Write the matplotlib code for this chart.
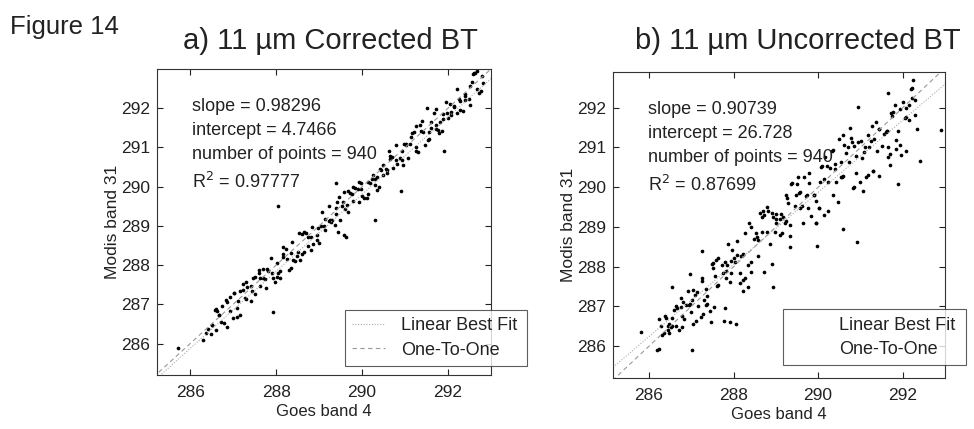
import numpy as np
import matplotlib.pyplot as plt

plt.rcParams['font.family'] = ['Liberation Sans', 'DejaVu Sans']

# a) corrected BT: goes band 4 (x) vs modis band 31 (y)
goes_a = [
    286.38, 286.41, 286.49, 286.50, 286.51, 286.57, 286.60, 286.60, 286.63, 286.67,
    286.68, 286.73, 286.75, 286.78, 286.84, 286.85, 286.86, 286.93, 286.92, 286.99,
    287.01, 287.02, 287.09, 287.11, 287.10, 287.15, 287.16, 287.24, 287.24, 287.27,
    287.30, 287.31, 287.33, 287.41, 287.43, 287.42, 287.46, 287.52, 287.51, 287.60,
    287.62, 287.61, 287.63, 287.69, 287.70, 287.74, 287.76, 287.79, 287.81, 287.89,
    287.92, 287.91, 287.98, 288.01, 288.02, 288.04, 288.10, 288.10, 288.15, 288.17,
    288.17, 288.22, 288.26, 288.30, 288.35, 288.35, 288.38, 288.39, 288.43, 288.49,
    288.50, 288.53, 288.56, 288.61, 288.60, 288.65, 288.66, 288.69, 288.74, 288.74,
    288.82, 288.81, 288.84, 288.86, 288.95, 288.97, 288.96, 288.99, 289.04, 289.07,
    289.11, 289.13, 289.14, 289.22, 289.24, 289.25, 289.31, 289.28, 289.36, 289.40,
    289.40, 289.41, 289.48, 289.46, 289.54, 289.56, 289.58, 289.60, 289.64, 289.68,
    289.68, 289.73, 289.77, 289.79, 289.80, 289.84, 289.90, 289.93, 289.93, 289.97,
    289.98, 290.01, 290.04, 290.12, 290.15, 290.15, 290.19, 290.23, 290.25, 290.30,
    290.29, 290.34, 290.35, 290.41, 290.40, 290.45, 290.48, 290.49, 290.55, 290.59,
    290.59, 290.62, 290.65, 290.66, 290.70, 290.73, 290.78, 290.79, 290.82, 290.89,
    290.92, 290.93, 290.98, 290.96, 291.03, 291.02, 291.06, 291.11, 291.16, 291.15,
    291.20, 291.25, 291.26, 291.26, 291.30, 291.38, 291.36, 291.39, 291.42, 291.47,
    291.53, 291.55, 291.56, 291.60, 291.61, 291.67, 291.71, 291.71, 291.73, 291.78,
    291.77, 291.81, 291.85, 291.89, 291.89, 291.95, 292.00, 291.98, 292.05, 292.07,
    292.08, 292.15, 292.14, 292.20, 292.22, 292.28, 292.26, 292.29, 292.35, 292.40,
    292.39, 292.40, 292.48, 292.51, 292.51, 292.55, 292.58, 292.61, 292.62, 292.67,
    292.67, 292.71, 292.78, 292.77, 292.82,
    285.72, 286.30, 287.93, 288.05, 289.40, 291.50, 290.90, 290.30, 291.90, 289.45,
    289.58, 289.62,
]
modis_a = [
    286.28, 286.38, 286.24, 286.47, 286.48, 286.85, 286.88, 286.35, 286.83, 286.72,
    286.73, 286.56, 286.95, 286.53, 287.12, 286.43, 287.06, 286.83, 287.20, 286.66,
    287.29, 287.30, 286.92, 287.08, 286.68, 287.35, 286.74, 287.36, 287.52, 287.17,
    287.58, 287.14, 287.45, 287.08, 287.33, 287.47, 287.66, 287.27, 287.71, 287.88,
    287.67, 287.81, 287.46, 287.89, 287.67, 287.64, 287.43, 287.91, 287.86, 288.17,
    287.67, 287.81, 287.56, 288.06, 287.69, 287.79, 287.85, 287.68, 288.20, 288.29,
    288.45, 288.42, 288.16, 287.88, 288.32, 287.93, 288.58, 288.14, 288.10, 288.24,
    288.33, 288.81, 288.14, 288.28, 288.80, 288.85, 288.33, 288.81, 288.71, 288.49,
    288.72, 288.39, 288.96, 288.53, 288.78, 288.94, 288.63, 288.57, 289.01, 289.35,
    289.01, 289.18, 288.89, 289.12, 289.52, 289.15, 289.14, 289.11, 289.03, 289.45,
    289.30, 289.61, 289.15, 289.74, 289.51, 289.61, 289.86, 289.43, 289.54, 289.35,
    289.88, 289.85, 289.82, 289.99, 289.63, 289.96, 289.95, 290.13, 289.60, 289.94,
    290.10, 289.76, 289.71, 289.70, 289.82, 290.12, 290.09, 290.20, 290.30, 290.05,
    290.19, 289.92, 290.25, 290.46, 289.98, 290.42, 290.31, 290.54, 290.45, 290.34,
    290.42, 290.90, 290.70, 290.78, 290.75, 290.48, 291.06, 290.69, 290.57, 290.72,
    290.67, 290.90, 291.10, 290.54, 291.08, 291.07, 290.73, 291.08, 291.36, 291.27,
    291.40, 290.92, 291.01, 291.54, 290.88, 291.43, 291.56, 291.67, 291.39, 291.05,
    291.20, 291.22, 291.39, 291.50, 291.66, 291.87, 291.46, 291.99, 291.56, 291.36,
    291.44, 291.64, 291.43, 291.72, 291.86, 292.15, 291.75, 291.88, 292.10, 291.82,
    291.91, 292.05, 292.04, 292.48, 291.89, 292.18, 292.23, 291.96, 291.93, 292.30,
    292.22, 292.37, 292.23, 292.09, 292.56, 292.67, 292.86, 292.89, 292.90, 292.50,
    292.95, 292.38, 292.83, 292.44, 292.65,
    285.90, 286.08, 286.80, 289.50, 290.10, 292.00, 289.90, 289.15, 290.90, 288.85,
    288.78, 288.72,
]

# b) uncorrected BT
goes_b = [
    286.20, 286.23, 286.23, 286.28, 286.30, 286.37, 286.40, 286.36, 286.44, 286.44,
    286.47, 286.48, 286.54, 286.52, 286.60, 286.55, 286.65, 286.64, 286.71, 286.66,
    286.76, 286.79, 286.76, 286.80, 286.78, 286.88, 286.84, 286.92, 286.97, 286.95,
    287.02, 287.00, 287.05, 287.03, 287.08, 287.12, 287.17, 287.14, 287.22, 287.25,
    287.25, 287.30, 287.28, 287.35, 287.34, 287.37, 287.37, 287.44, 287.46, 287.51,
    287.48, 287.53, 287.51, 287.59, 287.57, 287.61, 287.64, 287.64, 287.72, 287.75,
    287.80, 287.82, 287.81, 287.80, 287.86, 287.85, 287.95, 287.92, 287.94, 287.97,
    288.01, 288.09, 288.03, 288.07, 288.15, 288.18, 288.15, 288.22, 288.23, 288.23,
    288.28, 288.27, 288.35, 288.33, 288.37, 288.41, 288.41, 288.42, 288.49, 288.55,
    288.54, 288.58, 288.57, 288.62, 288.68, 288.67, 288.69, 288.71, 288.72, 288.78,
    288.80, 288.86, 288.82, 288.92, 288.90, 288.94, 289.00, 288.97, 289.01, 289.00,
    289.09, 289.11, 289.12, 289.17, 289.15, 289.21, 289.23, 289.27, 289.24, 289.29,
    289.34, 289.33, 289.34, 289.36, 289.39, 289.45, 289.48, 289.50, 289.54, 289.53,
    289.58, 289.57, 289.63, 289.67, 289.64, 289.71, 289.73, 289.77, 289.79, 289.79,
    289.83, 289.91, 289.90, 289.94, 289.95, 289.95, 290.04, 290.02, 290.03, 290.06,
    290.08, 290.13, 290.17, 290.14, 290.21, 290.24, 290.23, 290.28, 290.34, 290.35,
    290.39, 290.36, 290.39, 290.48, 290.42, 290.50, 290.55, 290.58, 290.57, 290.55,
    290.59, 290.62, 290.66, 290.70, 290.73, 290.78, 290.76, 290.84, 290.82, 290.81,
    290.85, 290.90, 290.89, 290.95, 290.98, 291.04, 291.02, 291.06, 291.10, 291.09,
    291.13, 291.17, 291.19, 291.26, 291.21, 291.27, 291.30, 291.29, 291.31, 291.37,
    291.39, 291.43, 291.43, 291.44, 291.51, 291.55, 291.60, 291.62, 291.65, 291.62,
    291.70, 291.66, 291.72, 291.71, 291.75, 291.76, 291.81, 291.85, 291.84, 291.93,
    291.89, 291.95, 291.94, 292.00, 292.05, 292.07, 292.08, 292.08, 292.15, 292.19,
    292.16, 292.21, 292.23, 292.28, 292.28, 292.34,
    285.80, 287.02, 287.77, 287.92, 288.06, 292.90, 292.24, 291.65, 290.94, 290.59,
    290.92, 289.97, 291.89, 292.40, 288.93, 286.54, 287.25, 286.97,
]
modis_b = [
    285.90, 285.93, 286.69, 286.50, 286.27, 286.75, 286.70, 286.33, 286.41, 286.52,
    286.32, 286.56, 286.51, 286.49, 286.90, 286.70, 286.50, 287.02, 286.41, 286.96,
    286.98, 286.76, 287.22, 287.10, 286.48, 287.03, 286.69, 287.38, 287.05, 287.03,
    287.17, 286.85, 286.57, 287.41, 287.30, 286.64, 287.02, 287.36, 286.74, 287.71,
    287.63, 287.15, 286.80, 287.43, 287.04, 287.27, 287.07, 286.89, 286.61, 287.96,
    288.06, 286.98, 288.09, 288.17, 287.77, 287.51, 288.22, 287.54, 288.04, 287.83,
    286.95, 287.72, 287.89, 288.12, 288.58, 288.05, 288.15, 287.62, 287.84, 288.42,
    288.21, 288.29, 288.11, 288.65, 287.85, 288.26, 287.60, 287.67, 288.31, 287.38,
    288.86, 287.72, 288.05, 287.48, 289.09, 288.99, 288.11, 287.87, 288.69, 288.75,
    288.86, 288.66, 288.27, 289.34, 289.26, 288.87, 289.41, 287.86, 289.30, 289.50,
    288.88, 288.56, 289.40, 288.07, 289.35, 289.26, 289.20, 288.87, 289.09, 289.32,
    288.79, 289.19, 289.32, 289.25, 288.85, 289.11, 289.81, 289.72, 289.14, 289.61,
    289.04, 288.78, 288.49, 290.08, 290.11, 289.53, 289.80, 290.08, 289.86, 290.25,
    289.48, 289.89, 289.53, 290.25, 289.09, 289.79, 289.81, 289.47, 290.11, 290.37,
    289.28, 289.81, 289.80, 289.09, 289.65, 289.10, 290.12, 289.47, 289.48, 290.51,
    290.53, 290.21, 290.75, 289.29, 290.53, 289.39, 290.13, 290.48, 290.92, 289.80,
    290.47, 290.94, 290.59, 289.63, 290.12, 291.22, 290.25, 290.28, 290.27, 290.63,
    291.31, 291.07, 290.86, 291.02, 290.63, 291.23, 291.48, 291.04, 289.97, 291.13,
    290.00, 290.35, 290.79, 291.15, 290.13, 290.73, 291.16, 289.91, 291.01, 290.89,
    290.25, 291.31, 290.31, 291.17, 291.01, 291.54, 290.42, 290.41, 291.22, 291.64,
    290.92, 290.28, 291.46, 291.47, 291.04, 291.35, 291.40, 291.42, 290.77, 291.42,
    290.55, 291.01, 291.86, 290.83, 291.78, 291.90, 292.08, 291.20, 290.96, 291.96,
    291.42, 290.80, 291.06, 292.14, 291.74, 290.92, 291.77, 291.99, 291.68, 292.46,
    292.07, 292.24, 292.50, 292.19, 291.81, 291.46,
    286.35, 285.90, 286.63, 286.60, 286.55, 291.45, 292.71, 292.38, 292.03, 288.94,
    288.61, 288.51, 290.07, 290.65, 287.50, 287.50, 288.39, 287.81,
]

slope_a, icpt_a, r2_a = 0.98296, 4.7466, 0.97777
slope_b, icpt_b, r2_b = 0.90739, 26.728, 0.87699
n_points = 940

ink = '#222222'
fig = plt.figure(figsize=(9.74, 4.29), dpi=100)
fig.text(0.010, 0.937, 'Figure 14', fontsize=18.5, color=ink, va='center')


def panel(rect, x, y, slope, icpt, r2, title, title_x, xlim, ylim, leg_anchor, show_handles):
    ax = fig.add_axes(rect)
    ax.scatter(x, y, s=7, c='black', marker='o', linewidths=0)
    lo, hi = 285.0, 293.5
    ax.plot([lo, hi], [lo, hi], ls=(0, (4, 3)), color='#999999', lw=0.8, label='One-To-One')
    ax.plot([lo, hi], [slope * lo + icpt, slope * hi + icpt], ls=(0, (1, 1.5)),
            color='#aaaaaa', lw=0.8, label='Linear Best Fit')
    ax.set_xlim(*xlim)
    ax.set_ylim(*ylim)
    ax.set_xticks([286, 288, 290, 292])
    ax.set_yticks(range(286, 293))
    ax.tick_params(direction='in', top=True, right=True, length=4, labelsize=12.5,
                   colors=ink)
    ax.tick_params(axis='x', pad=7)
    ax.tick_params(axis='y', pad=5)
    for s in ax.spines.values():
        s.set_color('#333333')
        s.set_linewidth(0.8)
    ax.set_xlabel('Goes band 4', fontsize=12, color=ink, labelpad=3)
    ax.set_ylabel('Modis band 31', fontsize=12.5, color=ink, labelpad=1)
    fig.text(title_x, 0.905, title, fontsize=21, color=ink, ha='center', va='center')
    txt = (f'slope = {slope:.5f}\nintercept = {icpt}\n'
           f'number of points = {n_points}\nR$^2$ = {r2}')
    ax.text(0.105, 0.905, txt, transform=ax.transAxes, va='top', ha='left',
            fontsize=13, color=ink, linespacing=1.55)
    h, l = ax.get_legend_handles_labels()
    leg = ax.legend(h[::-1], l[::-1], loc='lower left', bbox_to_anchor=leg_anchor,
                    bbox_transform=fig.transFigure, mode='expand', fontsize=13,
                    frameon=True, fancybox=False, borderaxespad=0, handlelength=1.8,
                    handletextpad=0.9, labelspacing=0.4, borderpad=0.4)
    leg.get_frame().set_edgecolor('#333333')
    leg.get_frame().set_linewidth(0.8)
    if not show_handles:
        for hl in leg.get_lines():
            hl.set_alpha(0)
    for t in leg.get_texts():
        t.set_color(ink)
    return ax


panel([0.1612, 0.1259, 0.3429, 0.7133], goes_a, modis_a, slope_a, icpt_a, r2_a,
      'a) 11 µm Corrected BT', 0.339, (285.23, 293.0), (285.2, 293.0),
      (0.354, 0.147, 0.187, 0.13), True)
panel([0.6294, 0.1189, 0.3408, 0.7133], goes_b, modis_b, slope_b, icpt_b, r2_b,
      'b) 11 µm Uncorrected BT', 0.819, (285.15, 293.0), (285.2, 292.9),
      (0.804, 0.149, 0.188, 0.13), False)

fig.savefig('out.png', dpi=100)
